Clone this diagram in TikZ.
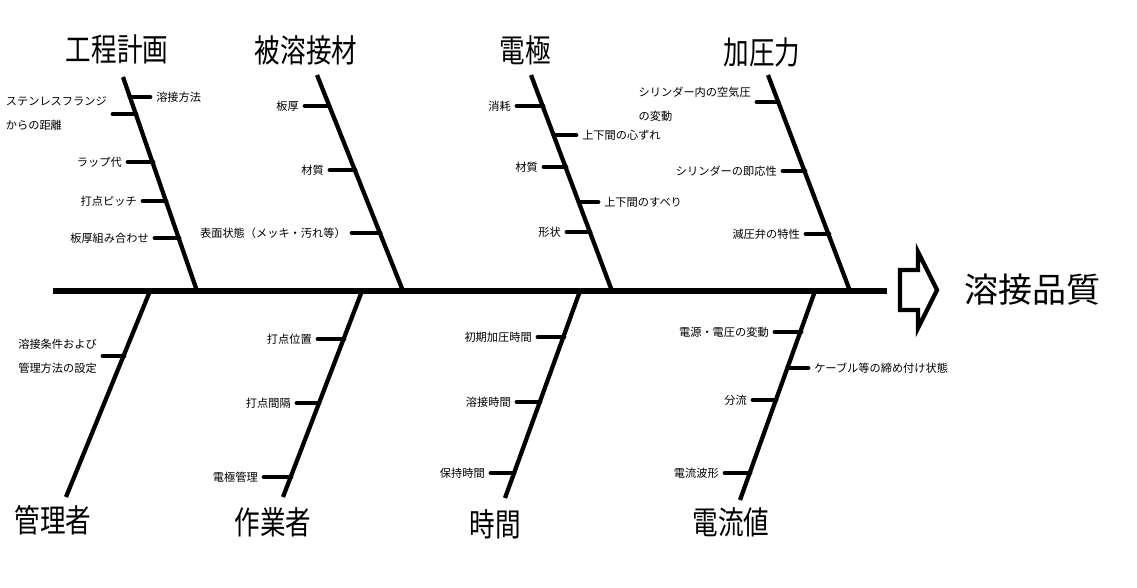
\documentclass[tikz,border=0pt]{standalone}
\usepackage{fontspec}
\setmainfont{Noto Sans CJK JP}
\begin{document}
\begin{tikzpicture}[x=0.75pt,y=-0.75pt,
  bone/.style={line width=3.2pt},
  spine/.style={line width=3.8pt},
  tickline/.style={line width=3.6pt,line cap=round},
  lbl/.style={font=\fontsize{8.4}{18}\selectfont,inner sep=0pt},
  lblL/.style={lbl,anchor=east,xshift=-4.5pt},
  lblR/.style={lbl,anchor=west,xshift=4.5pt},
  cat/.style={font=\fontsize{24}{28}\selectfont,inner sep=0pt},
  result/.style={font=\fontsize{25.5}{30}\selectfont,inner sep=0pt},
  arrowshape/.style={line width=3.2pt,miter limit=20}]
\useasboundingbox (0,0) rectangle (1137,588);
% spine
\coordinate (sL) at (53,291);
\coordinate (sR) at (887,291);
\draw[spine] (sL) -- (sR);
% arrow and result
\draw[arrowshape] (900,270) -- (918,270) -- (918,252) -- (937,290) -- (918,328) -- (918,310) -- (900,310) -- cycle;
\node[result] (res) at (1032,290) {溶接品質};
% ---------- top bones ----------
\coordinate (b1t) at (123,77); \coordinate (b1b) at (197,291);
\coordinate (b2t) at (317,75); \coordinate (b2b) at (403,291);
\coordinate (b3t) at (531,75); \coordinate (b3b) at (612,291);
\coordinate (b4t) at (768,75); \coordinate (b4b) at (850,291);
\draw[bone] (b1t) -- (b1b);
\draw[bone] (b2t) -- (b2b);
\draw[bone] (b3t) -- (b3b);
\draw[bone] (b4t) -- (b4b);
\node[cat] (c1) at (117,49) {\scalebox{0.8}[1]{工程計画}};
\node[cat] (c2) at (306,50) {\scalebox{0.8}[1]{被溶接材}};
\node[cat] (c3) at (525,50) {\scalebox{0.8}[1]{電極}};
\node[cat] (c4) at (762,52) {\scalebox{0.8}[1]{加圧力}};
% ---------- bottom bones ----------
\coordinate (b5t) at (150,291); \coordinate (b5b) at (66,497);
\coordinate (b6t) at (362,291); \coordinate (b6b) at (283,497);
\coordinate (b7t) at (580,291); \coordinate (b7b) at (505,498);
\coordinate (b8t) at (815,291); \coordinate (b8b) at (740,500);
\draw[bone] (b5t) -- (b5b);
\draw[bone] (b6t) -- (b6b);
\draw[bone] (b7t) -- (b7b);
\draw[bone] (b8t) -- (b8b);
\node[cat] (c5) at (53,520) {\scalebox{0.8}[1]{管理者}};
\node[cat] (c6) at (273,522) {\scalebox{0.8}[1]{作業者}};
\node[cat] (c7) at (495,524) {\scalebox{0.8}[1]{時間}};
\node[cat] (c8) at (731,522) {\scalebox{0.8}[1]{電流値}};
% ---------- ticks: bone 1 ----------
\coordinate (k11) at (130,97);  \coordinate (k11e) at (150,97);
\coordinate (k12) at (136,114); \coordinate (k12e) at (113,114);
\coordinate (k13) at (153,162); \coordinate (k13e) at (128,162);
\coordinate (k14) at (166,201); \coordinate (k14e) at (143,201);
\coordinate (k15) at (179,238); \coordinate (k15e) at (155,238);
\foreach \k in {k11,k12,k13,k14,k15} \draw[tickline] (\k) -- (\k e);
\node[lblR] (t11) at (k11e) {溶接方法};
\node[lblL,align=left] (t12) at (k12e) {ステンレスフランジ\\からの距離};
\node[lblL] (t13) at (k13e) {ラップ代};
\node[lblL] (t14) at (k14e) {打点ピッチ};
\node[lblL] (t15) at (k15e) {板厚組み合わせ};
% ---------- ticks: bone 2 ----------
\coordinate (k21) at (329,106); \coordinate (k21e) at (305,106);
\coordinate (k22) at (355,170); \coordinate (k22e) at (330,170);
\coordinate (k23) at (380,233); \coordinate (k23e) at (352,233);
\foreach \k in {k21,k22,k23} \draw[tickline] (\k) -- (\k e);
\node[lblL] (t21) at (k21e) {板厚};
\node[lblL] (t22) at (k22e) {材質};
\node[lblL] (t23) at (k23e) {表面状態（メッキ・汚れ等）};
% ---------- ticks: bone 3 ----------
\coordinate (k31) at (543,106); \coordinate (k31e) at (517,106);
\coordinate (k32) at (554,135); \coordinate (k32e) at (576,135);
\coordinate (k33) at (566,167); \coordinate (k33e) at (544,167);
\coordinate (k34) at (579,202); \coordinate (k34e) at (598,202);
\coordinate (k35) at (590,232); \coordinate (k35e) at (567,232);
\foreach \k in {k31,k32,k33,k34,k35} \draw[tickline] (\k) -- (\k e);
\node[lblL] (t31) at (k31e) {消耗};
\node[lblR] (t32) at (k32e) {上下間の心ずれ};
\node[lblL] (t33) at (k33e) {材質};
\node[lblR] (t34) at (k34e) {上下間のすべり};
\node[lblL] (t35) at (k35e) {形状};
% ---------- ticks: bone 4 ----------
\coordinate (k41) at (778,102); \coordinate (k41e) at (757,102);
\coordinate (k42) at (805,171); \coordinate (k42e) at (783,171);
\coordinate (k43) at (829,234); \coordinate (k43e) at (806,234);
\foreach \k in {k41,k42,k43} \draw[tickline] (\k) -- (\k e);
\node[lblL,align=left,yshift=-1.5pt] (t41) at (k41e) {シリンダー内の空気圧\\の変動};
\node[lblL] (t42) at (k42e) {シリンダーの即応性};
\node[lblL] (t43) at (k43e) {減圧弁の特性};
% ---------- ticks: bone 5 ----------
\coordinate (k51) at (124,356); \coordinate (k51e) at (103,356);
\draw[tickline] (k51) -- (k51e);
\node[lblL,align=left] (t51) at (k51e) {溶接条件および\\管理方法の設定};
% ---------- ticks: bone 6 ----------
\coordinate (k61) at (344,339); \coordinate (k61e) at (318,339);
\coordinate (k62) at (319,403); \coordinate (k62e) at (297,403);
\coordinate (k63) at (291,477); \coordinate (k63e) at (264,477);
\foreach \k in {k61,k62,k63} \draw[tickline] (\k) -- (\k e);
\node[lblL] (t61) at (k61e) {打点位置};
\node[lblL] (t62) at (k62e) {打点間隔};
\node[lblL] (t63) at (k63e) {電極管理};
% ---------- ticks: bone 7 ----------
\coordinate (k71) at (564,337); \coordinate (k71e) at (538,337);
\coordinate (k72) at (540,402); \coordinate (k72e) at (517,402);
\coordinate (k73) at (514,473); \coordinate (k73e) at (491,473);
\foreach \k in {k71,k72,k73} \draw[tickline] (\k) -- (\k e);
\node[lblL] (t71) at (k71e) {初期加圧時間};
\node[lblL] (t72) at (k72e) {溶接時間};
\node[lblL] (t73) at (k73e) {保持時間};
% ---------- ticks: bone 8 ----------
\coordinate (k81) at (801,332); \coordinate (k81e) at (775,332);
\coordinate (k82) at (788,368); \coordinate (k82e) at (808,368);
\coordinate (k83) at (776,400); \coordinate (k83e) at (753,400);
\coordinate (k84) at (750,473); \coordinate (k84e) at (725,473);
\foreach \k in {k81,k82,k83,k84} \draw[tickline] (\k) -- (\k e);
\node[lblL] (t81) at (k81e) {電源・電圧の変動};
\node[lblR] (t82) at (k82e) {ケーブル等の締め付け状態};
\node[lblL] (t83) at (k83e) {分流};
\node[lblL] (t84) at (k84e) {電流波形};
\end{tikzpicture}
\end{document}
